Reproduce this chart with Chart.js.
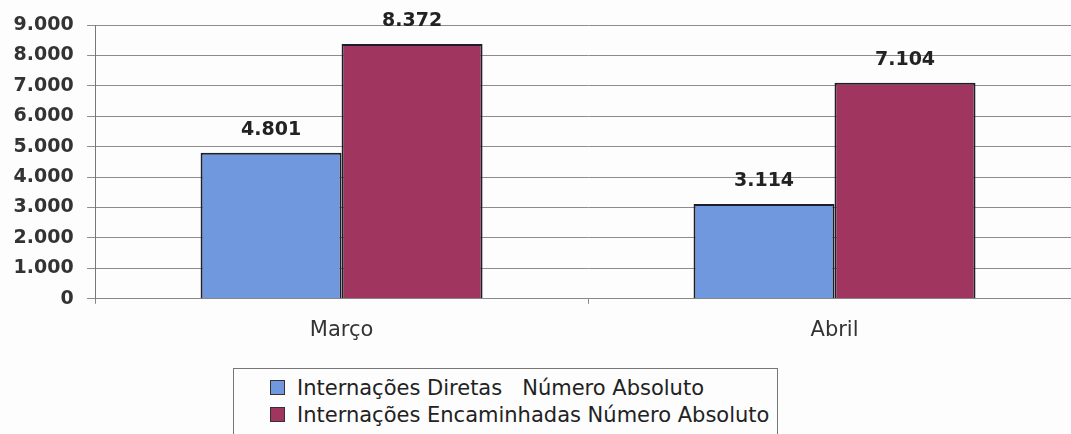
<!DOCTYPE html>
<html>
<head>
<meta charset="utf-8">
<script src="https://cdn.jsdelivr.net/npm/chart.js@4"></script>
<style>
  html, body { margin: 0; background: #fdfdfd; overflow: hidden; width: 1071px; height: 434px; scrollbar-width: none; }
  ::-webkit-scrollbar { display: none; }
  #pagina { position: relative; width: 1071px; height: 434px; overflow: hidden; }
  #wrap { position: absolute; left: 0; top: 0; width: 1085px; height: 434px; }
  #legenda {
    position: absolute; left: 233px; top: 368px; width: 545px; height: 66px;
    border: 1px solid #777; border-bottom: none; background: #fdfdfd; box-sizing: border-box;
    font-family: "DejaVu Sans", sans-serif; font-size: 21px; color: #222;
    padding: 6px 0 0 36px; overflow: hidden;
  }
  #legenda div { height: 27px; line-height: 27px; white-space: pre; }
  #legenda span.q {
    display: inline-block; width: 13px; height: 13px; border: 1px solid #333;
    margin-right: 12px; vertical-align: middle; position: relative; top: -2px;
  }
</style>
</head>
<body>
<div id="pagina">
  <div id="wrap"><canvas id="myChart"></canvas></div>
  <div id="legenda"></div>
</div>
<script>
let meses = ["Março", "Abril"];
let diretas = [4801, 3114];
let encaminhadas = [8372, 7104];
let nomesSeries = ["Internações Diretas   Número Absoluto", "Internações Encaminhadas Número Absoluto"];
let cores = ["#7098df", "#a0365f"];
let yTicks = [0, 1000, 2000, 3000, 4000, 5000, 6000, 7000, 8000, 9000];

function formata(v) {
  return String(v).replace(/\B(?=(\d{3})+(?!\d))/g, ".");
}

// rotulos em cima das barras
const rotulos = {
  id: "rotulos",
  afterDatasetsDraw(chart) {
    const ctx = chart.ctx;
    ctx.save();
    ctx.font = "bold 19px 'DejaVu Sans'";
    ctx.fillStyle = "#222";
    ctx.textAlign = "center";
    ctx.textBaseline = "middle";
    chart.data.datasets.forEach((ds, i) => {
      chart.getDatasetMeta(i).data.forEach((bar, j) => {
        ctx.fillText(formata(ds.data[j]), bar.x, bar.y - 23);
      });
    });
    ctx.restore();
  }
};

const data = {
  labels: meses,
  datasets: [
    { label: nomesSeries[0], data: diretas, backgroundColor: cores[0], borderColor: "#1e1e2a", borderWidth: 2 },
    { label: nomesSeries[1], data: encaminhadas, backgroundColor: cores[1], borderColor: "#1e1e2a", borderWidth: 2 },
  ],
};

const config = {
  type: "bar",
  data: data,
  options: {
    responsive: true,
    maintainAspectRatio: false,
    animation: false,
    categoryPercentage: 0.572,
    barPercentage: 1,
    // o grafico original continua um pouco para alem da borda direita
    layout: { padding: { left: 0, top: 25, right: 4, bottom: 77 } },
    plugins: { legend: { display: false }, tooltip: { enabled: false } },
    scales: {
      x: {
        grid: { drawOnChartArea: false, drawTicks: true, tickLength: 5, color: "#888" },
        border: { color: "#888", width: 1 },
        ticks: { padding: 14, color: "#333", font: { family: "DejaVu Sans", size: 21 } },
      },
      y: {
        min: 0,
        max: 9000,
        afterBuildTicks: (axis) => { axis.ticks = yTicks.map(v => ({ value: v })); },
        grid: { color: "#8c8c8c", tickLength: 8 },
        border: { color: "#777", width: 1 },
        ticks: {
          padding: 13.5,
          color: "#333",
          font: { family: "DejaVu Sans", size: 19, weight: "bold" },
          callback: (v) => formata(v),
        },
      },
    },
  },
  plugins: [rotulos],
};

const myChart = new Chart(document.getElementById("myChart"), config);

// legenda em caixa, como no original
let leg = document.getElementById("legenda");
data.datasets.forEach((ds) => {
  let linha = document.createElement("div");
  let q = document.createElement("span");
  q.className = "q";
  q.style.background = ds.backgroundColor;
  linha.appendChild(q);
  linha.appendChild(document.createTextNode(ds.label));
  leg.appendChild(linha);
});
</script>
</body>
</html>
